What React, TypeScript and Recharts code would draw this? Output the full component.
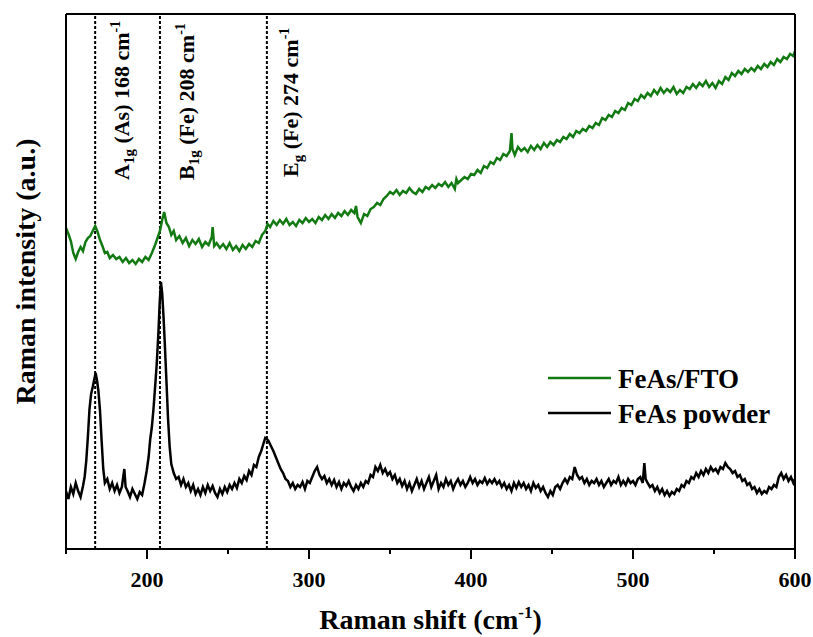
import React from 'react';
import { LineChart, Line, XAxis, YAxis, ReferenceLine, Label } from 'recharts';

const FONT = '"Liberation Serif", "Times New Roman", Times, serif';

// Raman shift (cm^-1) vs intensity (a.u.), FeAs/FTO film
const ftoPoints: [number, number][] = [
  [150, 321], [151.5, 315], [153, 308], [154.5, 296], [156, 290], [157.5, 297], [159, 302], [160.5, 298],
  [162, 307], [163.5, 311], [165, 313], [166.5, 318], [168, 323], [169.5, 317], [171, 309], [172.5, 303],
  [174, 296], [175.5, 297], [177, 291], [179, 294], [181, 290], [183, 292], [185, 287], [187, 291],
  [189, 286], [191, 289], [193, 285], [195, 290], [197, 287], [199, 292], [201, 289], [203, 296],
  [205, 304], [206.5, 311], [208, 318], [209.5, 330], [210.6, 337], [212, 326], [213.5, 322], [215, 314],
  [216.5, 318], [218, 309], [220, 313], [222, 306], [224, 311], [226, 303], [228, 309], [230, 305],
  [232, 310], [234, 302], [236, 307], [238, 304], [240, 312], [240.5, 322], [241.5, 303], [243, 306],
  [245, 301], [247, 305], [249, 300], [251, 306], [253, 299], [255, 303], [257, 298], [259, 304],
  [261, 300], [263, 305], [265, 302], [267, 308], [269, 306], [271, 314], [273, 318], [274.5, 325],
  [276, 322], [278, 328], [280, 324], [282, 329], [284, 325], [286, 330], [288, 324], [290, 327],
  [292, 323], [294, 329], [296, 326], [298, 331], [300, 327], [302, 330], [304, 326], [306, 332],
  [308, 329], [310, 334], [312, 330], [314, 335], [316, 331], [318, 336], [320, 333], [322, 338],
  [324, 334], [326, 339], [328, 336], [329, 343], [330, 332], [332, 326], [334, 335], [336, 333],
  [338, 340], [340, 342], [342, 346], [344, 344], [346, 350], [348, 353], [350, 357], [352, 355],
  [354, 359], [356, 354], [358, 358], [360, 356], [362, 361], [364, 357], [366, 355], [368, 360],
  [370, 357], [372, 362], [374, 360], [376, 364], [378, 361], [380, 365], [382, 363], [384, 367],
  [386, 362], [388, 366], [390, 360], [391, 370], [392, 366], [394, 369], [396, 372], [398, 370],
  [400, 375], [402, 374], [404, 379], [406, 376], [408, 383], [410, 381], [412, 387], [414, 385],
  [416, 391], [418, 389], [420, 395], [422, 393], [424, 398], [425, 416], [425.6, 400], [427, 394],
  [429, 402], [431, 398], [433, 401], [435, 397], [437, 403], [439, 399], [441, 404], [443, 400],
  [445, 406], [447, 402], [449, 407], [451, 404], [453, 409], [455, 407], [457, 412], [459, 410],
  [461, 415], [463, 412], [465, 418], [467, 416], [469, 420], [471, 418], [473, 423], [475, 421],
  [477, 426], [479, 424], [481, 431], [483, 429], [485, 434], [487, 432], [489, 438], [491, 436],
  [493, 441], [495, 439], [497, 446], [499, 444], [501, 450], [503, 448], [505, 454], [507, 451],
  [509, 456], [511, 453], [513, 459], [515, 455], [517, 461], [519, 456], [521, 460], [523, 457],
  [525, 462], [527, 455], [529, 459], [531, 456], [533, 462], [535, 460], [537, 465], [539, 461],
  [541, 466], [543, 463], [545, 468], [547, 462], [549, 466], [551, 461], [553, 468], [555, 465],
  [557, 472], [559, 469], [561, 476], [563, 473], [565, 478], [567, 475], [569, 480], [571, 477],
  [573, 481], [575, 478], [577, 483], [579, 480], [581, 485], [583, 482], [585, 487], [587, 484],
  [589, 490], [591, 487], [593, 492], [595, 490], [597, 495], [599, 493], [600, 498],
];

// FeAs powder
const powderPoints: [number, number][] = [
  [150, 58], [151.5, 50], [153, 62], [154.5, 55], [156, 66], [157.5, 58], [159, 52], [160.5, 63],
  [161.5, 72], [162.5, 88], [163.5, 112], [164.5, 140], [165.5, 155], [166.5, 162], [167.5, 170], [168.3, 176],
  [169.2, 168], [170, 158], [171, 138], [172, 108], [173, 80], [174, 66], [175.5, 70], [177, 60],
  [178.5, 66], [180, 58], [181.5, 64], [183, 56], [184.5, 62], [186, 80], [186.8, 62], [188, 58],
  [189.5, 52], [191, 60], [192.5, 55], [194, 50], [195.5, 57], [197, 54], [198.5, 66], [199.8, 78],
  [201, 92], [202, 110], [203, 122], [204, 140], [205, 162], [206, 185], [207, 215], [207.8, 245],
  [208.6, 267], [209.4, 255], [210.2, 232], [211, 205], [212, 168], [213, 130], [214, 102], [215, 85],
  [216.5, 76], [218, 70], [219.5, 72], [221, 64], [222.5, 70], [224, 62], [225.5, 66], [227, 58],
  [228.5, 64], [230, 55], [231.5, 60], [233, 54], [234.5, 62], [236, 56], [237.5, 64], [239, 58],
  [240.5, 63], [242, 56], [243.5, 52], [245, 60], [246.5, 55], [248, 62], [249.5, 57], [251, 64],
  [252.5, 60], [254, 66], [255.5, 61], [257, 70], [258.5, 66], [260, 73], [261.5, 69], [263, 78],
  [264.5, 74], [266, 84], [267.5, 82], [269, 92], [270.5, 98], [272, 106], [273, 111], [274, 110],
  [275, 108], [276.5, 103], [278, 98], [279.5, 92], [281, 86], [282.5, 80], [284, 76], [285.5, 70],
  [287, 68], [288.5, 62], [290, 66], [291.5, 60], [293, 64], [294.5, 62], [296, 67], [297.5, 60],
  [299, 68], [300.5, 66], [302, 72], [303.5, 78], [305, 82], [306.5, 74], [308, 70], [309.5, 73],
  [311, 66], [312.5, 70], [314, 64], [315.5, 69], [317, 62], [318.5, 67], [320, 60], [321.5, 66],
  [323, 63], [324.5, 68], [326, 62], [327.5, 58], [329, 64], [330.5, 60], [332, 66], [333.5, 62],
  [335, 68], [336.5, 66], [338, 74], [339.5, 72], [341, 82], [342.5, 78], [344, 84], [345.5, 76],
  [347, 80], [348.5, 74], [350, 77], [351.5, 70], [353, 74], [354.5, 66], [356, 70], [357.5, 63],
  [359, 68], [360.5, 60], [362, 66], [363.5, 58], [365, 64], [366.5, 70], [368, 62], [369.5, 68],
  [371, 60], [372.5, 66], [374, 72], [375.5, 62], [377, 68], [378.5, 74], [380, 60], [381.5, 66],
  [383, 62], [384.5, 70], [386, 64], [387.5, 68], [389, 60], [390.5, 66], [392, 70], [393.5, 64],
  [395, 68], [396.5, 62], [398, 66], [399.5, 72], [401, 66], [402.5, 70], [404, 64], [405.5, 68],
  [407, 66], [408.5, 71], [410, 65], [411.5, 69], [413, 66], [414.5, 70], [416, 65], [417.5, 68],
  [419, 62], [420.5, 66], [422, 60], [423.5, 64], [425, 58], [426.5, 66], [428, 61], [429.5, 67],
  [431, 62], [432.5, 66], [434, 60], [435.5, 64], [437, 58], [438.5, 66], [440, 61], [441.5, 64],
  [443, 58], [444.5, 62], [446, 56], [447.5, 52], [449, 58], [450.5, 54], [452, 62], [453.5, 64],
  [455, 60], [456.5, 66], [458, 70], [459.5, 66], [461, 72], [462.5, 70], [464, 82], [465.5, 74],
  [467, 70], [468.5, 72], [470, 66], [471.5, 70], [473, 64], [474.5, 68], [476, 66], [477.5, 70],
  [479, 64], [480.5, 68], [482, 62], [483.5, 66], [485, 70], [486.5, 64], [488, 68], [489.5, 66],
  [491, 72], [492.5, 64], [494, 68], [495.5, 64], [497, 70], [498.5, 66], [500, 68], [501.5, 64],
  [503, 70], [504.5, 72], [506, 66], [507, 86], [507.8, 70], [509, 66], [510.5, 62], [512, 64],
  [513.5, 58], [515, 62], [516.5, 56], [518, 60], [519.5, 54], [521, 58], [522.5, 53], [524, 57],
  [525.5, 55], [527, 60], [528.5, 58], [530, 64], [531.5, 62], [533, 68], [534.5, 66], [536, 72],
  [537.5, 70], [539, 76], [540.5, 72], [542, 78], [543.5, 74], [545, 80], [546.5, 76], [548, 82],
  [549.5, 78], [551, 80], [552.5, 76], [554, 82], [555.5, 80], [557, 86], [558.5, 82], [560, 80],
  [561.5, 76], [563, 78], [564.5, 72], [566, 74], [567.5, 68], [569, 70], [570.5, 64], [572, 66],
  [573.5, 60], [575, 62], [576.5, 56], [578, 60], [579.5, 55], [581, 58], [582.5, 56], [584, 62],
  [585.5, 60], [587, 64], [588.5, 62], [590, 72], [591.5, 76], [593, 70], [594.5, 74], [596, 68],
  [597.5, 72], [599, 66], [600, 70],
];

const xTicks = [150, 200, 250, 300, 350, 400, 450, 500, 550, 600];
const xTickLabels = [200, 300, 400, 500, 600];
const xDomain = [150, 600];
const yDomain = [0, 535];

const seriesNames = ['FeAs/FTO', 'FeAs powder'];
const seriesColors = ['#137a13', '#000000'];

const peakPositions = [168, 208, 274];
const peakModes = ['A', 'B', 'E'];
const peakModeSubs = ['1g', '1g', 'g'];
const peakAtoms = ['As', 'Fe', 'Fe'];

const ftoData = ftoPoints.map(([x, y]) => ({ x, y }));
const powderData = powderPoints.map(([x, y]) => ({ x, y }));

const CHART_W = 813;
const CHART_H = 637;
const MARGIN = { top: 12, right: 16, bottom: 0, left: 64 };
const XAXIS_H = 88;
const FRAME = { stroke: '#000', strokeWidth: 2 };

const XTick = (props: any) => {
  const { x, y, payload } = props;
  const major = xTickLabels.includes(payload.value);
  return (
    <g>
      <line x1={x} x2={x} y1={y} y2={y + (major ? 10 : 5)} stroke="#000" strokeWidth={2} />
      {major && (
        <text x={x} y={y + 38} textAnchor="middle" fontFamily={FONT} fontWeight="bold" fontSize={22} fill="#000">
          {payload.value}
        </text>
      )}
    </g>
  );
};

const Decorations = (props: any) => {
  const vb = props.viewBox || { x: 66, y: 549, width: 729, height: 88 };
  const cx = vb.x + vb.width / 2;
  const legendX = 548;
  const legendY = [378, 413];
  const yx = vb.x - 31;
  const yy = 14 + (vb.y - 14) / 2 - 10;
  return (
    <g>
      <text x={cx} y={vb.y + 80} textAnchor="middle" fontFamily={FONT} fontWeight="bold" fontSize={28} fill="#000">
        Raman shift (cm
        <tspan fontSize={17} dy={-11}>-1</tspan>
        <tspan dy={11}>)</tspan>
      </text>
      <text x={yx} y={yy} transform={`rotate(-90, ${yx}, ${yy})`} textAnchor="middle" fontFamily={FONT} fontWeight="bold" fontSize={28} fill="#000">
        Raman intensity (a.u.)
      </text>
      {seriesNames.map((n, i) => (
        <g key={n}>
          <line x1={legendX} x2={legendX + 63} y1={legendY[i]} y2={legendY[i]} stroke={seriesColors[i]} strokeWidth={2.5} />
          <text x={legendX + 70} y={legendY[i] + 10} fontFamily={FONT} fontWeight="bold" fontSize={27} fill="#000">
            {n}
          </text>
        </g>
      ))}
    </g>
  );
};

const makePeakLabel = (i: number) => (props: any) => {
  const vb = props.viewBox || { x: 0, y: 14 };
  const x = vb.x + (i === 2 ? 31 : 34);
  const y = i === 2 ? 177 : 180;
  return (
    <text x={x} y={y} transform={`rotate(-90, ${x}, ${y})`} textAnchor="start" fontFamily={FONT} fontWeight="bold" fontSize={22} fill="#000">
      {peakModes[i]}
      <tspan fontSize={15} dy={5}>{peakModeSubs[i]}</tspan>
      <tspan dy={-5}>{` (${peakAtoms[i]}) ${peakPositions[i]} cm`}</tspan>
      <tspan fontSize={14} dy={-9}>-1</tspan>
    </text>
  );
};

export default function App() {
  return (
    <div style={{ position: 'absolute', left: 0, top: 0, width: CHART_W, height: CHART_H, background: '#fff' }}>
      <LineChart width={CHART_W} height={CHART_H} margin={MARGIN}>
        <XAxis
          xAxisId="main"
          type="number"
          dataKey="x"
          domain={xDomain}
          ticks={xTicks}
          interval={0}
          allowDataOverflow
          height={XAXIS_H}
          tickSize={0}
          tickMargin={0}
          tickLine={false}
          tick={<XTick />}
          axisLine={FRAME}
        >
          <Label content={<Decorations />} />
        </XAxis>
        <XAxis
          xAxisId="top"
          orientation="top"
          type="number"
          dataKey="x"
          domain={xDomain}
          allowDataOverflow
          height={2}
          tick={false}
          tickLine={false}
          axisLine={FRAME}
        />
        <YAxis yAxisId="left" type="number" domain={yDomain} allowDataOverflow width={2} tick={false} tickLine={false} axisLine={FRAME} />
        <YAxis yAxisId="right" orientation="right" type="number" domain={yDomain} allowDataOverflow width={2} tick={false} tickLine={false} axisLine={FRAME} />
        {peakPositions.map((p, i) => (
          <ReferenceLine key={p} xAxisId="main" yAxisId="left" x={p} stroke="#000" strokeWidth={2} strokeDasharray="3 2" label={{ content: makePeakLabel(i) } as any} />
        ))}
        <Line xAxisId="main" yAxisId="left" data={ftoData} dataKey="y" type="linear" stroke={seriesColors[0]} strokeWidth={2.5} dot={false} isAnimationActive={false} name={seriesNames[0]} />
        <Line xAxisId="main" yAxisId="left" data={powderData} dataKey="y" type="linear" stroke={seriesColors[1]} strokeWidth={2.5} dot={false} isAnimationActive={false} name={seriesNames[1]} />
      </LineChart>
    </div>
  );
}
